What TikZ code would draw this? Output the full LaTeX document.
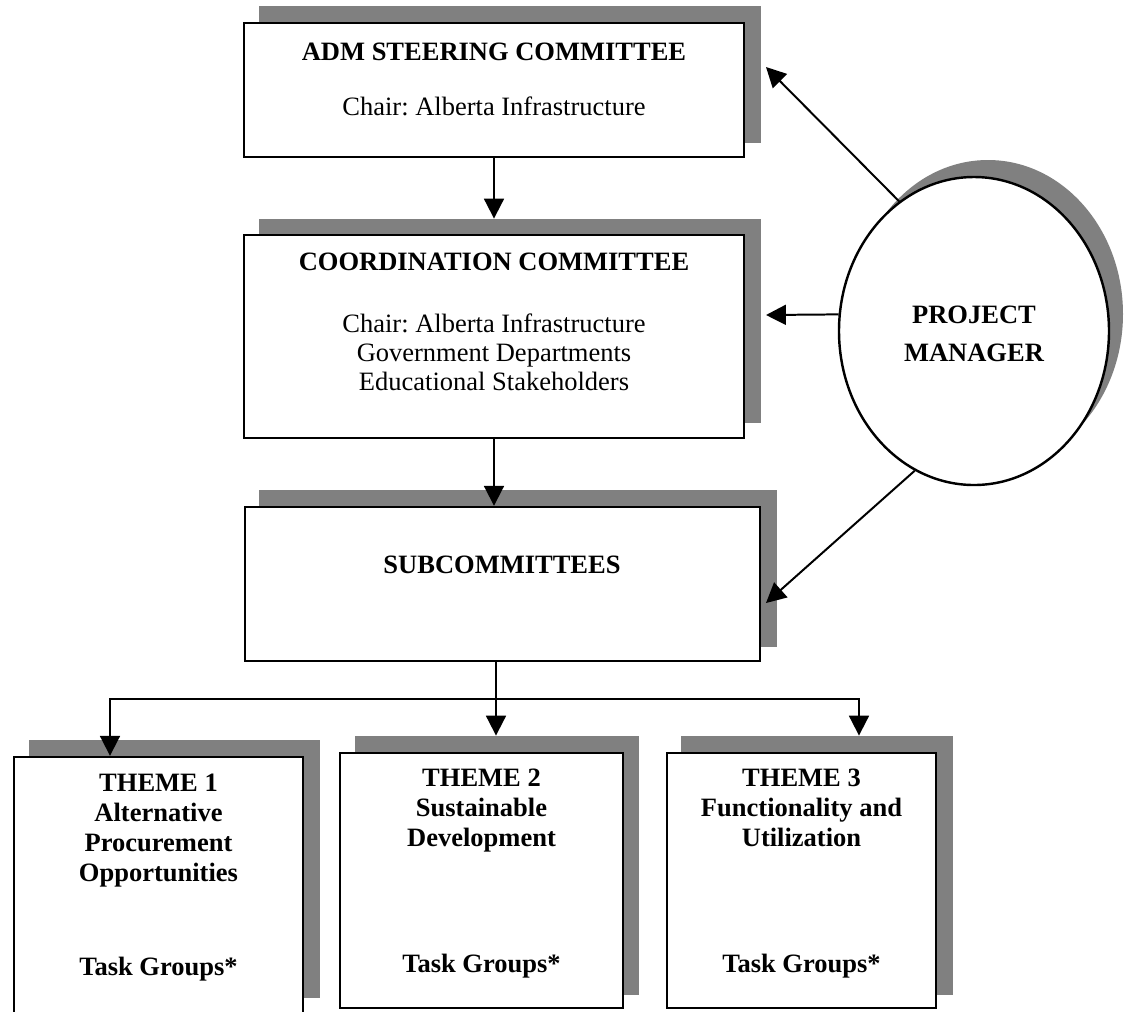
\documentclass[tikz,border=0pt]{standalone}
\usepackage{fontspec}
\setmainfont{Liberation Serif}
\usetikzlibrary{arrows.meta,shapes.geometric,fit}
\definecolor{shadowgray}{HTML}{808080}
\frenchspacing
\tikzset{
  shadowbox/.style={rectangle, fill=shadowgray, draw=none, inner sep=0pt},
  mainbox/.style={rectangle, fill=white, draw=black, line width=1.1pt, inner sep=0pt},
  lbl/.style={anchor=base, inner sep=0pt, font=\fontsize{12}{14}\selectfont},
  blbl/.style={anchor=base, inner sep=0pt, font=\fontsize{12}{14}\selectfont\bfseries},
  conn/.style={line width=0.9pt, draw=black},
  arr/.style={conn, -{Triangle[length=9pt,width=9pt]}},
  pmshape/.style={ellipse, inner sep=0pt, minimum width=270*0.4528pt, minimum height=308*0.4528pt},
}
\begin{document}
\begin{tikzpicture}[x=0.4528pt, y=-0.4528pt]
\path[use as bounding box, fill=white] (0,0) rectangle (1129,1011);

% shadows
\node[shadowbox, fit={(259,6) (761,143)}] (admS) {};
\node[shadowbox, fit={(259,219) (761,423)}] (coordS) {};
\node[shadowbox, fit={(259,490) (777,647)}] (subS) {};
\node[shadowbox, fit={(29,740) (320,998)}] (t1S) {};
\node[shadowbox, fit={(355,736) (639,995)}] (t2S) {};
\node[shadowbox, fit={(681,736) (953,995)}] (t3S) {};
\node[pmshape, fill=shadowgray] (pmS) at (988,314) {};

% boxes
\node[mainbox, fit={(244,23) (744,157)}] (adm) {};
\node[mainbox, fit={(244,235) (744,438)}] (coord) {};
\node[mainbox, fit={(245,507) (760,661)}] (sub) {};
\node[mainbox, fit={(14,757) (303,1016)}] (t1) {};
\node[mainbox, fit={(340,753) (623,1008)}] (t2) {};
\node[mainbox, fit={(667,753) (936,1008)}] (t3) {};
\node[pmshape, fill=white, draw=black, line width=1.1pt] (pm) at (974,331) {};

% texts
\node[blbl] (admT) at (494,60) {ADM STEERING COMMITTEE};
\node[lbl] (admC) at (494,115) {Chair: Alberta Infrastructure};

\node[blbl] (coordT) at (494,270) {COORDINATION COMMITTEE};
\node[lbl] (coordA) at (494,332) {Chair: Alberta Infrastructure};
\node[lbl] (coordB) at (494,361) {Government Departments};
\node[lbl] (coordC) at (494,390) {Educational Stakeholders};

\node[blbl] (subT) at (502,573) {SUBCOMMITTEES};

\node[blbl] (pmA) at (974,323) {PROJECT};
\node[blbl] (pmB) at (974,361) {MANAGER};

\node[blbl] (t1a) at (158.5,791) {THEME 1};
\node[blbl] (t1b) at (158.5,821) {Alternative};
\node[blbl] (t1c) at (158.5,851) {Procurement};
\node[blbl] (t1d) at (158.5,881) {Opportunities};
\node[blbl] (t1e) at (158.5,975) {Task Groups*};

\node[blbl] (t2a) at (481.5,786) {THEME 2};
\node[blbl] (t2b) at (481.5,816) {Sustainable};
\node[blbl] (t2c) at (481.5,846) {Development};
\node[blbl] (t2e) at (481.5,972) {Task Groups*};

\node[blbl] (t3a) at (801.5,786) {THEME 3};
\node[blbl] (t3b) at (801.5,816) {Functionality and};
\node[blbl] (t3c) at (801.5,846) {Utilization};
\node[blbl] (t3e) at (801.5,972) {Task Groups*};

% connector coordinates
\coordinate (admtip) at (766,67);
\coordinate (coordtip) at (766,315);
\coordinate (subtip) at (766,603);
\coordinate (br) at (496,699);
\coordinate (brL) at (110,699);
\coordinate (brR) at (859,699);

% vertical chain
\draw[arr] (adm.south) -- (adm.south |- coordS.north);
\draw[arr] (coord.south) -- (coord.south |- sub.north);
\draw[conn] (sub.south -| br) -- (br);
\draw[arr] (br) -| (brL |- t1.north);
\draw[arr] (br) -- (br |- t2S.north);
\draw[arr] (br) -| (brR |- t3S.north);

% project manager arrows
\draw[arr] (pm.120) -- (admtip);
\draw[arr] (pm.173.2) -- (coordtip);
\draw[arr] (pm.247) -- (subtip);
\end{tikzpicture}
\end{document}
